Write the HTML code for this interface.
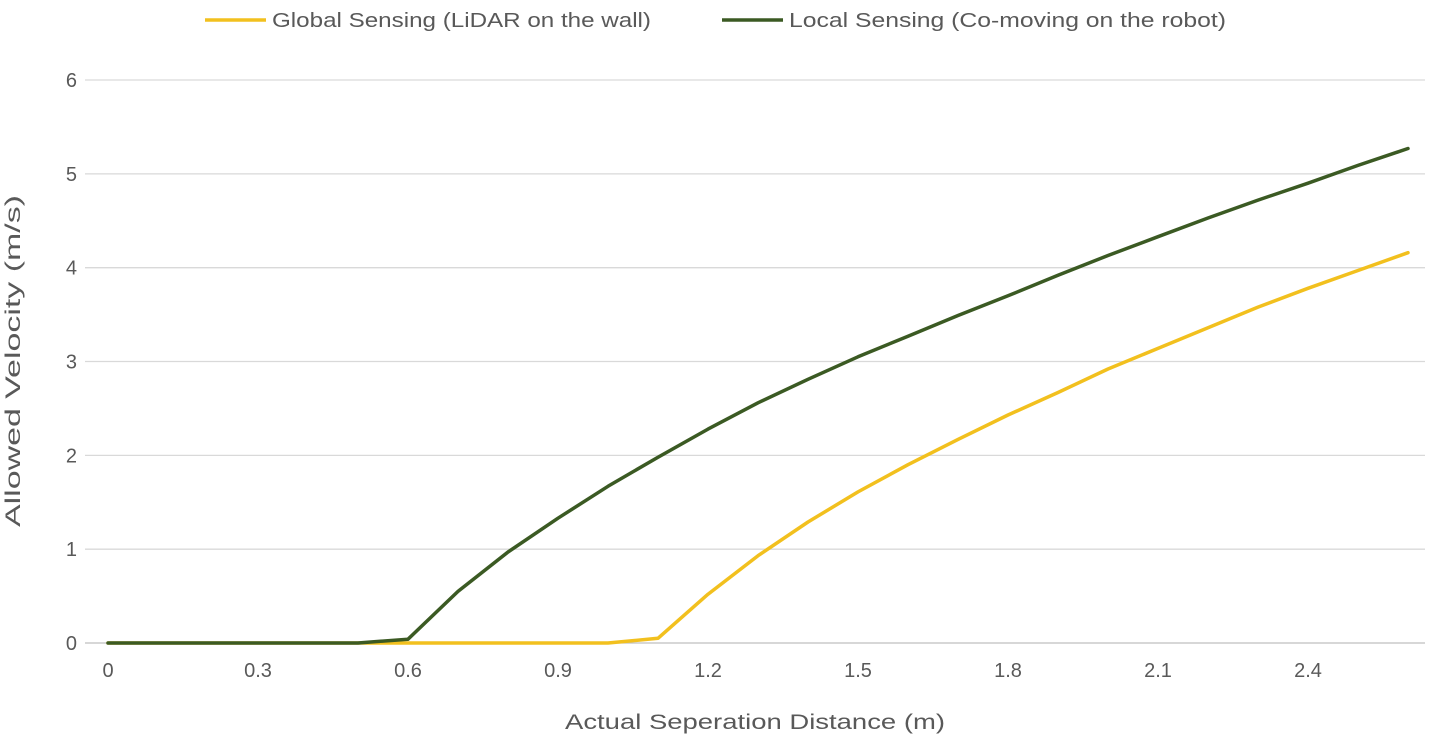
<!DOCTYPE html>
<html><head><meta charset="utf-8"><style>
body{margin:0;background:#fff;}
svg{display:block;font-family:"Liberation Sans",sans-serif;}
</style></head><body>
<svg id="chart" width="1432" height="754">
<g id="grid"></g>
<g id="yticks"></g>
<g id="xticks"></g>
<g id="series"></g>
<text x="20" y="361" transform="rotate(-90 20 361)" text-anchor="middle" font-size="21" fill="#595959" textLength="332" lengthAdjust="spacingAndGlyphs">Allowed Velocity (m/s)</text>
<text x="755" y="729" text-anchor="middle" font-size="21" fill="#595959" textLength="380" lengthAdjust="spacingAndGlyphs">Actual Seperation Distance (m)</text>
<g>
<g>
<line x1="205" y1="20" x2="266" y2="20" stroke="#f2c01e" stroke-width="3.5"/>
<text x="272" y="27" font-size="20" fill="#595959" textLength="379" lengthAdjust="spacingAndGlyphs">Global Sensing (LiDAR on the wall)</text>
</g>
<g>
<line x1="722" y1="20" x2="783" y2="20" stroke="#3b5a23" stroke-width="3.5"/>
<text x="789" y="27" font-size="20" fill="#595959" textLength="437" lengthAdjust="spacingAndGlyphs">Local Sensing (Co-moving on the robot)</text>
</g>
</g>
</svg>
<script>
const categories=[0,0.1,0.2,0.3,0.4,0.5,0.6,0.7,0.8,0.9,1.0,1.1,1.2,1.3,1.4,1.5,1.6,1.7,1.8,1.9,2.0,2.1,2.2,2.3,2.4,2.5,2.6];
const globalValues=[0,0,0,0,0,0,0,0,0,0,0,0.05,0.52,0.93,1.29,1.61,1.90,2.17,2.43,2.67,2.92,3.14,3.36,3.58,3.78,3.97,4.16];
const localValues=[0,0,0,0,0,0,0.04,0.55,0.97,1.33,1.67,1.98,2.28,2.56,2.81,3.05,3.27,3.49,3.70,3.92,4.13,4.33,4.53,4.72,4.90,5.09,5.27];
const yTicks=[0,1,2,3,4,5,6];
const xTickLabels=["0","0.3","0.6","0.9","1.2","1.5","1.8","2.1","2.4"];
const xTickValues=[0,0.3,0.6,0.9,1.2,1.5,1.8,2.1,2.4];
const NS="http://www.w3.org/2000/svg";
const xs=v=>108+v*500;
const ys=v=>643-v*93.83;
function mk(tag,attrs,parent){const e=document.createElementNS(NS,tag);for(const k in attrs)e.setAttribute(k,attrs[k]);parent.appendChild(e);return e;}
const grid=document.getElementById('grid'),yt=document.getElementById('yticks'),xt=document.getElementById('xticks'),ser=document.getElementById('series');
yTicks.forEach(t=>{
  const l=mk('line',{x1:85,x2:1425,y1:ys(t),y2:ys(t),stroke:t===0?'#bfbfbf':'#d9d9d9','stroke-width':1.3},grid);
  
  
  const tx=mk('text',{x:77,y:ys(t)+7,'text-anchor':'end','font-size':20,fill:'#595959'},yt);
  tx.textContent=t;
  
  
});
xTickValues.forEach((v,i)=>{
  const tx=mk('text',{x:xs(v),y:677,'text-anchor':'middle','font-size':20,fill:'#595959'},xt);
  tx.textContent=xTickLabels[i];
  
  
});
function line(vals,color,name){
  const d=vals.map((v,i)=>(i?'L':'M')+xs(categories[i]).toFixed(1)+','+ys(v).toFixed(1)).join('');
  const p=mk('path',{d:d,fill:'none',stroke:color,'stroke-width':3.5,'stroke-linejoin':'round','stroke-linecap':'round'},ser);
  
  
}
line(globalValues,'#f2c01e','global-sensing-line');
line(localValues,'#3b5a23','local-sensing-line');
</script>
</body></html>
